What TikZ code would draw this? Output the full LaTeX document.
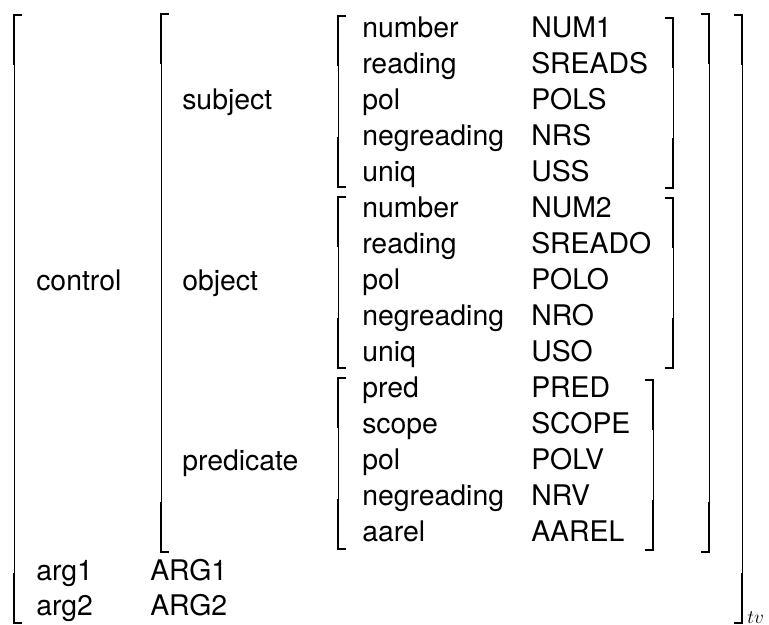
\documentclass[tikz,border=0pt]{standalone}
\usepackage{fontspec}
\setmainfont{TeX Gyre Heros}
\usepackage{tikz}

% square brackets of the matrix: x, top, bottom
\newcommand{\avmleft}[3]{%
  \draw [thin bar] (#1+8,#2) -- (#1,#2) -- (#1,#3) -- (#1+8,#3);
  \draw [thick bar] (#1+8,#2) -- (#1,#2) -- (#1,#2+50);
  \draw [thick bar] (#1,#3-50) -- (#1,#3) -- (#1+8,#3);}
\newcommand{\avmright}[3]{%
  \draw [thin bar] (#1-8,#2) -- (#1,#2) -- (#1,#3) -- (#1-8,#3);
  \draw [thick bar] (#1-8,#2) -- (#1,#2) -- (#1,#2+50);
  \draw [thick bar] (#1,#3-50) -- (#1,#3) -- (#1-8,#3);}

\begin{document}
\begin{tikzpicture}[x=0.75pt,y=0.75pt,yscale=-1,xscale=1,
  thin bar/.style={line width=0.75pt},
  thick bar/.style={line width=1.5pt},
  feat/.style={anchor=base west,inner sep=0pt,font=\fontsize{21.3}{25}\selectfont}]
\useasboundingbox (0,0) rectangle (769,625);

% outer matrix
\avmleft{14}{15}{623}
\avmright{742}{15}{623}
% control
\avmleft{161}{14}{552}
\avmright{709}{14}{552}
% subject
\avmleft{338}{16}{187}
\avmright{673}{18}{188}
% object
\avmleft{338}{197}{368}
\avmright{673}{198}{368}
% predicate
\avmleft{338}{378}{549}
\avmright{653}{380}{550}

% Text Node
\node [feat] (ctl) at (36,290) {control};
\node [feat] (subj) at (182,109.4) {subject};
\node [feat] (obj) at (182,290) {object};
\node [feat] (pred) at (182,470.6) {predicate};

% subject features
\node [feat] (snum) at (362,37) {number};
\node [feat] (snumv) at (531,37) {NUM1};
\node [feat] (srd) at (362,73) {reading};
\node [feat] (srdv) at (531,73) {SREADS};
\node [feat] (spol) at (362,109) {pol};
\node [feat] (spolv) at (531,109) {POLS};
\node [feat] (sneg) at (362,145) {negreading};
\node [feat] (snegv) at (531,145) {NRS};
\node [feat] (suq) at (362,181) {uniq};
\node [feat] (suqv) at (531,181) {USS};

% object features
\node [feat] (onum) at (362,217) {number};
\node [feat] (onumv) at (531,217) {NUM2};
\node [feat] (ord) at (362,253) {reading};
\node [feat] (ordv) at (531,253) {SREADO};
\node [feat] (opol) at (362,289) {pol};
\node [feat] (opolv) at (531,289) {POLO};
\node [feat] (oneg) at (362,325) {negreading};
\node [feat] (onegv) at (531,325) {NRO};
\node [feat] (ouq) at (362,361) {uniq};
\node [feat] (ouqv) at (531,361) {USO};

% predicate features
\node [feat] (ppred) at (362,397) {pred};
\node [feat] (ppredv) at (531,397) {PRED};
\node [feat] (psc) at (362,433) {scope};
\node [feat] (pscv) at (531,433) {SCOPE};
\node [feat] (ppol) at (362,469) {pol};
\node [feat] (ppolv) at (531,469) {POLV};
\node [feat] (pneg) at (362,505) {negreading};
\node [feat] (pnegv) at (531,505) {NRV};
\node [feat] (paa) at (362,541) {aarel};
\node [feat] (paav) at (531,541) {AAREL};

% arguments
\node [feat] (a1) at (36,580) {arg1};
\node [feat] (a1v) at (150,580) {ARG1};
\node [feat] (a2) at (36,615) {arg2};
\node [feat] (a2v) at (150,615) {ARG2};

% type subscript
\node [anchor=base west,inner sep=0pt,font=\fontsize{15}{17}\selectfont] (typ) at (747,623) {$tv$};
\end{tikzpicture}
\end{document}
